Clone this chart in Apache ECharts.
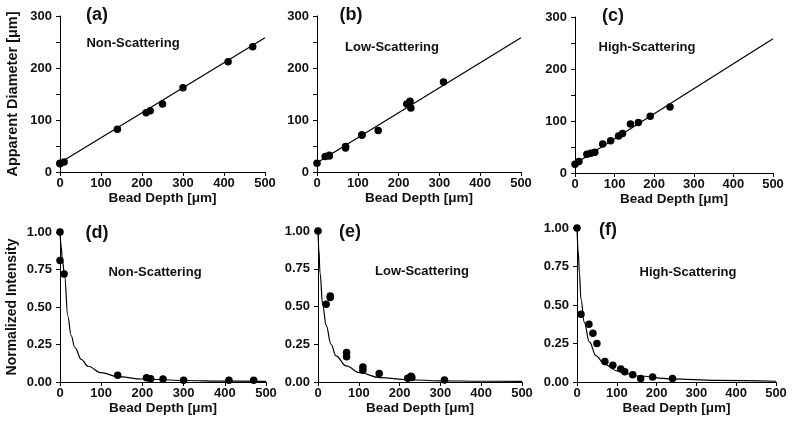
<!DOCTYPE html>
<html>
<head>
<meta charset="utf-8">
<script src="https://cdn.jsdelivr.net/npm/echarts@6.0.0/dist/echarts.min.js"></script>
<style>
  html, body { margin: 0; padding: 0; background: #fff; }
  #main { width: 795px; height: 427px; }
</style>
</head>
<body>
<div id="main"></div>
<script>
// bead depths [um] per medium
var depthNon = [0, 0, 10, 140, 210, 220, 250, 300, 410, 470];
var depthLow = [0, 20, 30, 30, 70, 70, 110, 110, 150, 220, 228, 230, 310];
var depthHigh = [0, 10, 30, 40, 50, 70, 90, 110, 120, 140, 160, 190, 240];

// apparent diameter [um]
var diamNon = [16, 17, 19, 82, 114, 118, 131, 162, 212, 241];
var diamLow = [17, 30, 31, 32, 46, 49, 71, 71, 80, 131, 136, 123, 173];
var diamHigh = [17, 22, 36, 38, 40, 56, 62, 71, 76, 94, 97, 109, 127];

// normalized intensity
var intNon = [1.00, 0.81, 0.72, 0.045, 0.028, 0.022, 0.02, 0.011, 0.011, 0.011];
var intLow = [1.00, 0.515, 0.56, 0.57, 0.196, 0.168, 0.10, 0.078, 0.057, 0.025, 0.038, 0.03, 0.013];
var intHigh = [1.00, 0.44, 0.375, 0.316, 0.25, 0.133, 0.108, 0.085, 0.067, 0.047, 0.022, 0.033, 0.022];

// linear fit (same in a, b, c)
var fitX = [0, 500];
var fitY = [18, 258];

// fitted intensity curves
var curveNonX = [0, 3, 6, 11, 19, 27, 36, 52, 68, 100, 140, 200, 300, 400, 500];
var curveNonY = [1.0, 0.90, 0.81, 0.71, 0.44, 0.31, 0.23, 0.15, 0.105, 0.062, 0.036, 0.02, 0.01, 0.006, 0.004];
var curveLowX = [0, 2, 5, 11.5, 20, 32, 44, 69, 102, 151, 220, 300, 400, 500];
var curveLowY = [1.0, 0.88, 0.72, 0.51, 0.375, 0.25, 0.173, 0.107, 0.062, 0.029, 0.015, 0.008, 0.005, 0.004];
var curveHighX = [0, 3, 6, 10, 18, 31, 48, 69, 102, 152, 236, 350, 500];
var curveHighY = [1.0, 0.85, 0.71, 0.54, 0.39, 0.26, 0.17, 0.115, 0.072, 0.039, 0.02, 0.01, 0.005];

var titleLetters = ['(a)', '(b)', '(c)', '(d)', '(e)', '(f)'];
var mediumNames = ['Non-Scattering', 'Low-Scattering', 'High-Scattering'];

var FONT = '"Liberation Sans", Arial, sans-serif';
var TXT = '#111';

var grids = [
  { left: 60, top: 16, width: 205, height: 156 },
  { left: 317, top: 16, width: 204, height: 156 },
  { left: 575, top: 17, width: 198, height: 156 },
  { left: 60, top: 232, width: 206, height: 150 },
  { left: 318, top: 231, width: 204, height: 151 },
  { left: 577, top: 228, width: 199, height: 154 }
];

function pairs(xs, ys) {
  return xs.map(function (x, i) { return [x, ys[i]]; });
}

function xAxis(i) {
  return {
    gridIndex: i, type: 'value', min: 0, max: 500, interval: 100,
    axisLine: { show: true, onZero: false, lineStyle: { color: '#000', width: 1 } },
    axisTick: { show: true, length: 4, lineStyle: { color: '#000' } },
    axisLabel: { margin: 5, color: TXT, fontFamily: FONT, fontWeight: 'bold', fontSize: 13 },
    splitLine: { show: false },
    name: 'Bead Depth [μm]', nameLocation: 'middle', nameGap: 19,
    nameTextStyle: { color: TXT, fontFamily: FONT, fontWeight: 'bold', fontSize: 13.5 }
  };
}

function yAxis(i, top, name) {
  var a = {
    gridIndex: i, type: 'value', min: 0,
    max: top ? 300 : 1, interval: top ? 50 : 0.25,
    axisLine: { show: true, onZero: false, lineStyle: { color: '#000', width: 1 } },
    axisTick: { show: true, length: 4, lineStyle: { color: '#000' } },
    axisLabel: {
      margin: 8, color: TXT, fontFamily: FONT, fontWeight: 'bold', fontSize: 13,
      formatter: top ? function (v) { return v % 100 === 0 ? v : ''; } : function (v) { return v.toFixed(2); }
    },
    splitLine: { show: false }
  };
  if (name) {
    a.name = name;
    a.nameLocation = 'middle';
    a.nameGap = top ? 40 : 41;
    a.nameTextStyle = { color: TXT, fontFamily: FONT, fontWeight: 'bold', fontSize: top ? 14.5 : 14 };
  }
  return a;
}

var series = [];
function addScatter(i, xs, ys) {
  series.push({
    type: 'scatter', xAxisIndex: i, yAxisIndex: i, data: pairs(xs, ys),
    symbolSize: 7.5, itemStyle: { color: '#000', opacity: 1 }, z: 3
  });
}
function addLine(i, xs, ys, smooth) {
  series.push({
    type: 'line', xAxisIndex: i, yAxisIndex: i, data: pairs(xs, ys),
    showSymbol: false, smooth: smooth, smoothMonotone: 'x',
    lineStyle: { color: '#000', width: 1.2 }, z: 2
  });
}

addLine(0, fitX, fitY, false);
addLine(1, fitX, fitY, false);
addLine(2, fitX, fitY, false);
addScatter(0, depthNon, diamNon);
addScatter(1, depthLow, diamLow);
addScatter(2, depthHigh, diamHigh);

addLine(3, curveNonX, curveNonY, 0.4);
addLine(4, curveLowX, curveLowY, 0.4);
addLine(5, curveHighX, curveHighY, 0.4);
addScatter(3, depthNon, intNon);
addScatter(4, depthLow, intLow);
addScatter(5, depthHigh, intHigh);

// panel letters and medium captions
var letterPos = [[97, 15], [351, 15], [613, 16], [97, 233], [350, 232], [608, 230]];
var namePos = [[133, 43], [392, 47], [647, 47], [155, 272], [422, 271], [688, 272]];
var graphics = [];
letterPos.forEach(function (p, i) {
  graphics.push({
    type: 'text', x: p[0], y: p[1],
    style: { text: titleLetters[i], fill: TXT, font: 'bold 18px ' + FONT, align: 'center', verticalAlign: 'middle' }
  });
});
namePos.forEach(function (p, i) {
  graphics.push({
    type: 'text', x: p[0], y: p[1],
    style: { text: mediumNames[i % 3], fill: TXT, font: 'bold 13px ' + FONT, align: 'center', verticalAlign: 'middle' }
  });
});

var myChart = echarts.init(document.getElementById('main'), null, { renderer: 'canvas' });
myChart.setOption({
  animation: false,
  backgroundColor: '#fff',
  grid: grids,
  xAxis: [0, 1, 2, 3, 4, 5].map(xAxis),
  yAxis: [
    yAxis(0, true, 'Apparent Diameter [μm]'),
    yAxis(1, true),
    yAxis(2, true),
    yAxis(3, false, 'Normalized Intensity'),
    yAxis(4, false),
    yAxis(5, false)
  ],
  series: series,
  graphic: graphics
});
</script>
</body>
</html>
